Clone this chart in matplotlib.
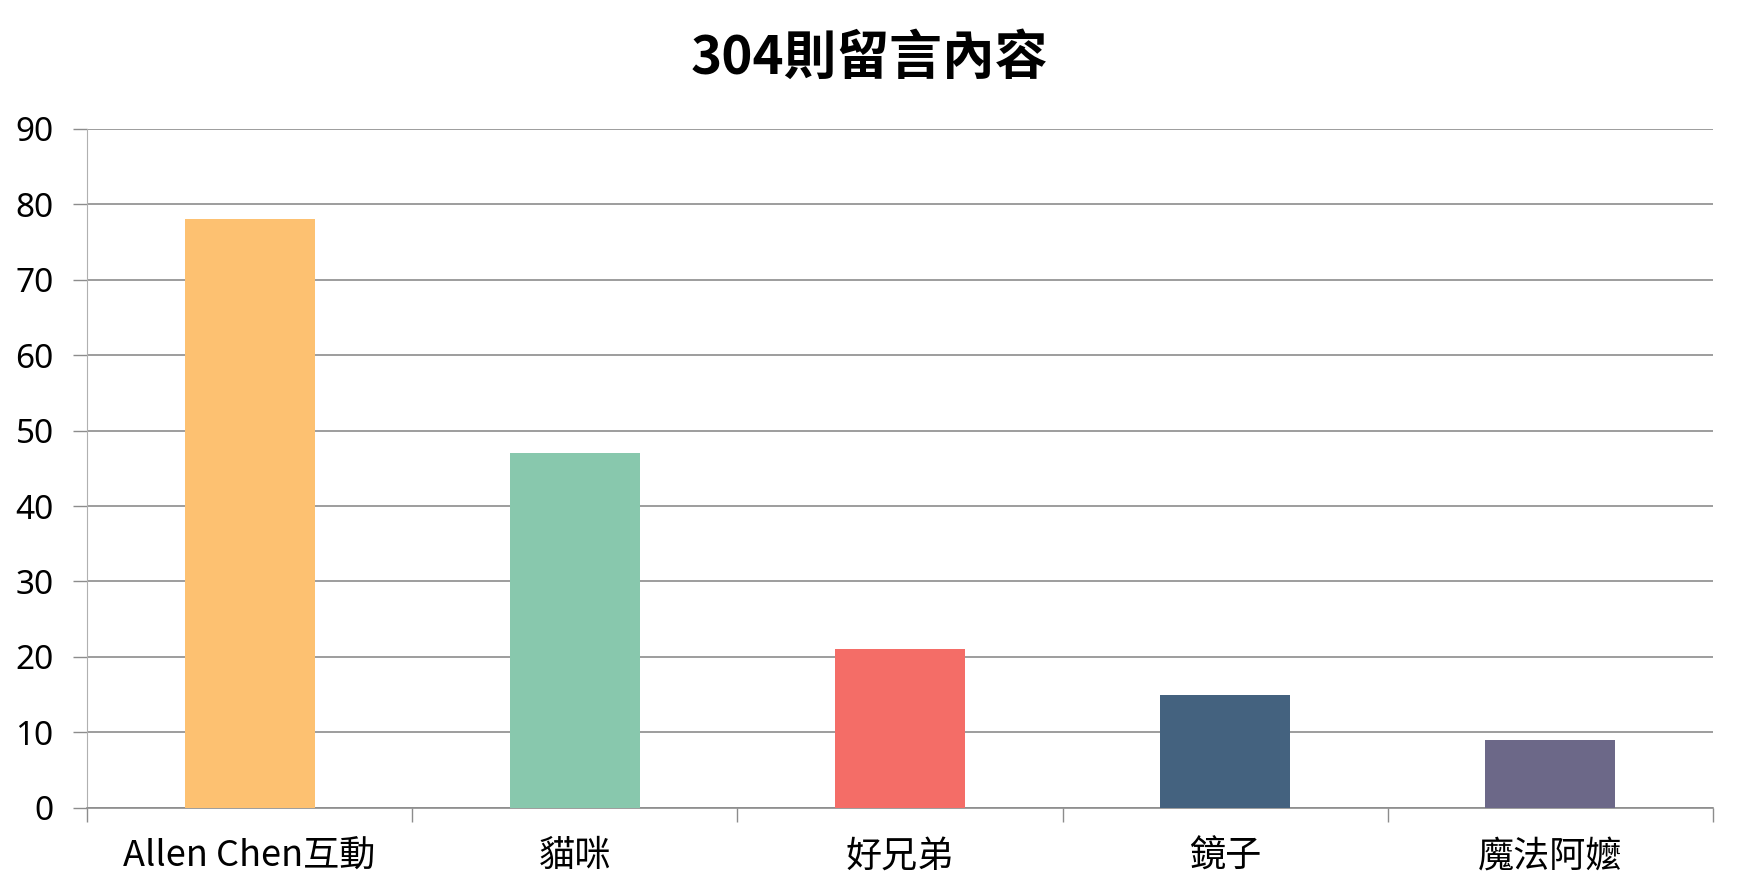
import matplotlib
matplotlib.use("Agg")
import matplotlib.pyplot as plt
import numpy as np

plt.rcParams['font.family'] = ['Noto Sans CJK TC', 'DejaVu Sans']

# 數據
categories = ['Allen Chen互動', '貓咪', '好兄弟', '鏡子', '魔法阿嬤']
counts = [78, 47, 21, 15, 9]
colors = ['#FDC171', '#88C8AD', '#F46D67', '#44627F', '#6C6888']
title = '304則留言內容'

fig = plt.figure(figsize=(17.39, 8.91), dpi=100)
ax = fig.add_axes([0.05, 0.0934, 0.935, 0.762])

x = np.arange(len(categories))
ax.bar(x, counts, width=0.4, color=colors, zorder=3)

ax.set_xlim(-0.5, len(categories) - 0.5)
ax.set_ylim(0, 90)
ax.set_yticks(np.arange(0, 91, 10))
ax.yaxis.grid(True, color='#8c8c8c', linewidth=1.2, zorder=0)
ax.tick_params(axis='y', length=10, color='#8c8c8c', width=1, labelsize=24, pad=14)
for lab in ax.get_yticklabels():
    lab.set_family(['Noto Sans', 'DejaVu Sans'])

# 類別標籤放在中間，刻度放在邊界
ax.set_xticks(np.arange(len(categories) + 1) - 0.5)
ax.set_xticklabels([])
ax.set_xticks(x, minor=True)
ax.set_xticklabels(categories, minor=True, fontsize=26)
ax.tick_params(axis='x', which='major', length=10, color='#8c8c8c', width=1)
ax.tick_params(axis='x', which='minor', length=0, pad=22)

for side in ['top', 'right']:
    ax.spines[side].set_visible(False)
ax.spines['left'].set_color('#b0b0b0')
ax.spines['bottom'].set_color('#8c8c8c')
ax.spines['bottom'].set_linewidth(1.2)

fig.text(0.5, 0.935, title, ha='center', va='center', fontsize=38, fontweight='bold')

fig.savefig('out.png', dpi=100)
